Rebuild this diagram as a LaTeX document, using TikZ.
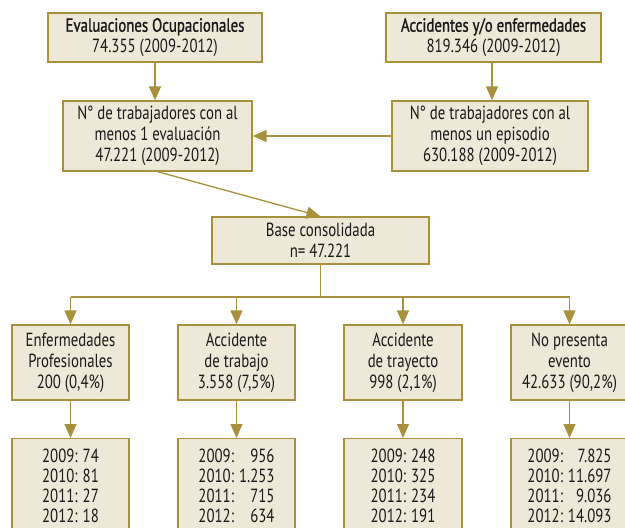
\documentclass[tikz,border=0pt]{standalone}
\usepackage{fontspec}
\setmainfont{PT Sans}[FakeStretch=0.78]
\newfontfamily\medfont{PT Sans}[FakeStretch=0.78, FakeBold=1.2]
\usetikzlibrary{arrows.meta}
\definecolor{gold}{HTML}{A8903C}
\definecolor{beige}{HTML}{EEE8D8}
\tikzset{
  box/.style={draw=gold, fill=beige, line width=1.3pt, align=center, inner sep=0pt,
    font=\fontsize{19}{21}\selectfont, text=black!90},
  conn/.style={draw=gold, line width=1.3pt},
  arr/.style={conn, -{Triangle[length=14pt,width=12pt]}},
}
\newcommand{\yr}[4]{\begin{tabular}{@{}l@{\hspace{5pt}}r@{}}2009:&#1\\[-1pt]2010:&#2\\[-1pt]2011:&#3\\[-1pt]2012:&#4\end{tabular}}
\begin{document}
\begin{tikzpicture}[x=1pt,y=-1pt]
\useasboundingbox (0,0) rectangle (625,528);
\clip (0,0) rectangle (625,528);
\node[box, minimum width=214pt, minimum height=49pt] (b1) at (155,37.5) {{\medfont Evaluaciones Ocupacionales}\\74.355 (2009-2012)};
\node[box, minimum width=215pt, minimum height=49pt] (b2) at (493.5,37.5) {{\medfont Accidentes y/o enfermedades}\\819.346 (2009-2012)};
\node[box, minimum width=189pt, minimum height=70pt] (b3) at (157.5,136) {N° de trabajadores con al\\menos 1 evaluación\\47.221 (2009-2012)};
\node[box, minimum width=196pt, minimum height=70pt] (b4) at (490,136) {N° de trabajadores con al\\menos un episodio\\630.188 (2009-2012)};
\node[box, minimum width=217pt, minimum height=47pt] (base) at (320.5,240.5) {Base consolidada\\n= 47.221};
\node[box, minimum width=117pt, minimum height=75pt] (rA) at (70.5,362.5) {Enfermedades\\Profesionales\\200 (0,4\%)};
\node[box, minimum width=117pt, minimum height=75pt] (rB) at (236.5,362.5) {Accidente\\de trabajo\\3.558 (7,5\%)};
\node[box, minimum width=118pt, minimum height=75pt] (rC) at (403,362.5) {Accidente\\de trayecto\\998 (2,1\%)};
\node[box, minimum width=117pt, minimum height=75pt] (rD) at (569.5,362.5) {No presenta\\evento\\42.633 (90,2\%)};
\node[box, minimum width=117pt, minimum height=100pt, anchor=north] (yA) at (70.5,438) {\yr{74}{81}{27}{18}};
\node[box, minimum width=117pt, minimum height=100pt, anchor=north] (yB) at (236.5,438) {\yr{956}{1.253}{715}{634}};
\node[box, minimum width=118pt, minimum height=100pt, anchor=north] (yC) at (403,438) {\yr{248}{325}{234}{191}};
\node[box, minimum width=117pt, minimum height=100pt, anchor=north] (yD) at (569.5,438) {\yr{7.825}{11.697}{9.036}{14.093}};
\draw[arr] (b1.south) -- (b1.south |- b3.north);
\draw[arr] (b2.south -| 492,0) -- (492,0 |- b4.north);
\draw[arr] (b4.west) -- (b3.east);
\draw[arr] (b3.south) -- (base.north);
\coordinate (j) at (320.5,297);
\draw[conn] (base.south) -- (j);
\draw[conn] (j -| rA.north) -- (j -| rD.north);
\foreach \n in {rA,rB,rC,rD}{\draw[arr] (j -| \n.north) -- (\n.north);}
\draw[arr] (rA.south) -- (yA.north);
\draw[arr] (rB.south) -- (yB.north);
\draw[arr] (rC.south) -- (yC.north);
\draw[arr] (rD.south) -- (yD.north);
\end{tikzpicture}
\end{document}
